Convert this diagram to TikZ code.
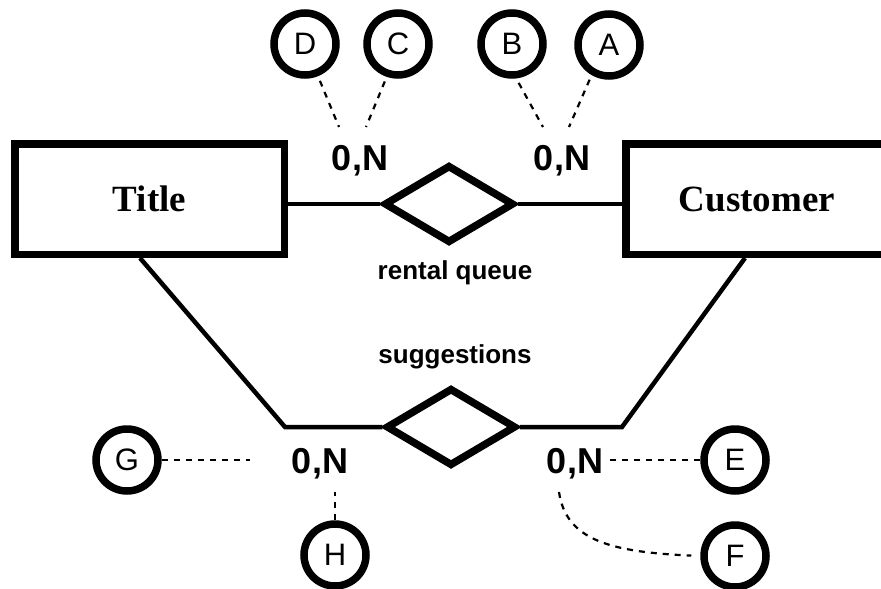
\documentclass[tikz,border=0pt]{standalone}
\usepackage{fontspec}
\setmainfont{Liberation Serif}
\setsansfont{Liberation Sans}
\usetikzlibrary{shapes.geometric}
\begin{document}
\begin{tikzpicture}[x=1pt,y=-1pt,
  entity/.style={draw,line width=7.5pt,rectangle,inner sep=0pt,font=\rmfamily\bfseries\fontsize{37}{40}\selectfont},
  rel/.style={draw,diamond,line width=7.5pt,minimum width=130pt,minimum height=78pt,inner sep=0pt},
  attr/.style={draw,circle,line width=7.5pt,minimum size=62pt,inner sep=0pt,font=\sffamily\fontsize{31}{34}\selectfont},
  card/.style={anchor=base,inner sep=0pt,font=\sffamily\bfseries\fontsize{36}{40}\selectfont},
  rlabel/.style={anchor=base,inner sep=0pt,font=\sffamily\bfseries\fontsize{26}{30}\selectfont},
  conn/.style={line width=4.5pt},
  dsh/.style={line width=2.2pt,dash pattern=on 6pt off 6pt}]
\useasboundingbox (0,0) rectangle (881,589);
\clip (0,0) rectangle (881,589);

% entities
\node[entity,minimum width=269.5pt,minimum height=110.5pt] (title) at (149.5,199) {Title};
\node[entity,minimum width=262.5pt,minimum height=110.5pt] (customer) at (757,199) {Customer};

% relationships
\node[rel] (rq) at (449,204) {};
\node[rel] (sg) at (451,427) {};
\node[rlabel] (rqlabel) at (455,279) {rental queue};
\node[rlabel] (sglabel) at (455,363) {suggestions};

% connectors
\draw[conn] (title.east |- rq.west) -- (rq.west);
\draw[conn] (rq.east) -- (customer.west |- rq.east);
\coordinate (bl) at (285,427);
\coordinate (br) at (622,427);
\draw[conn] ([xshift=-9.5pt]title.south) -- (bl) -- (sg.west);
\draw[conn] ([xshift=-12pt]customer.south) -- (br) -- (sg.east);

% cardinalities
\node[card] (ctl) at (360,170) {0,N};
\node[card] (ctr) at (562,170) {0,N};
\node[card] (cbl) at (320,473) {0,N};
\node[card] (cbr) at (575,473) {0,N};

% attribute circles
\node[attr] (D) at (305,44) {D};
\node[attr] (C) at (398,44) {C};
\node[attr] (B) at (512,44) {B};
\node[attr] (A) at (609,45) {A};
\node[attr] (G) at (127,460) {G};
\node[attr] (H) at (335,555) {H};
\node[attr] (E) at (735,460) {E};
\node[attr] (F) at (735,556) {F};

% dashed connector ends
\coordinate (dD) at (339,127);
\coordinate (dC) at (366,127);
\coordinate (dB) at (543,127);
\coordinate (dA) at (569,127);
\coordinate (dG) at (250,460);
\coordinate (dH) at (335,492);
\coordinate (dE) at (606,460);
\coordinate (dF) at (559,492);

\draw[dsh,shorten <=5pt] (D.-68) -- (dD);
\draw[dsh,shorten <=5pt] (C.-109) -- (dC);
\draw[dsh,shorten <=5pt] (B.-83) -- (dB);
\draw[dsh,shorten <=5pt] (A.-120) -- (dA);
\draw[dsh] (G) -- (dG);
\draw[dsh] (H) -- (dH);
\draw[dsh] (E) -- (dE);
\draw[dsh,shorten >=9pt] (dF) .. controls (566,540) and (610,552) .. (F.west);
\end{tikzpicture}
\end{document}
